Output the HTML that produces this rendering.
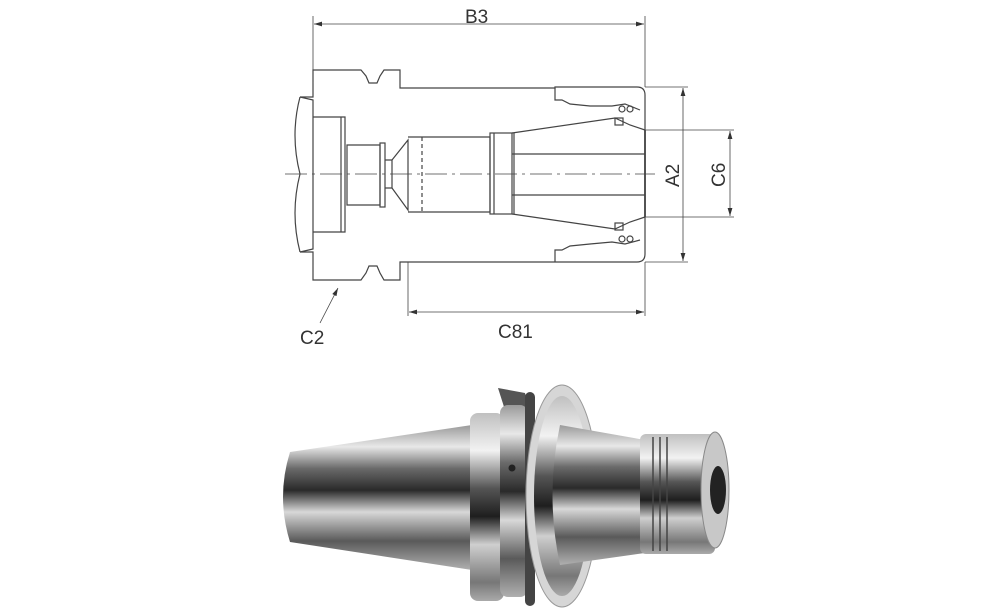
<!DOCTYPE html>
<html><head><meta charset="utf-8"><style>
html,body{margin:0;padding:0;background:#fff;width:1000px;height:611px;overflow:hidden}
svg{display:block}
text{font-family:"Liberation Sans",sans-serif;fill:#333}
</style></head><body>
<svg width="1000" height="611" viewBox="0 0 1000 611" xmlns="http://www.w3.org/2000/svg">
<defs>
<linearGradient id="m" x1="0" y1="0" x2="0" y2="1">
<stop offset="0" stop-color="#9a9a9a"/><stop offset=".15" stop-color="#e8e8e8"/><stop offset=".3" stop-color="#6a6a6a"/><stop offset=".45" stop-color="#2a2a2a"/><stop offset=".6" stop-color="#d8d8d8"/><stop offset=".8" stop-color="#5a5a5a"/><stop offset="1" stop-color="#b0b0b0"/>
</linearGradient>
<linearGradient id="m2" x1="0" y1="0" x2="0" y2="1">
<stop offset="0" stop-color="#c0c0c0"/><stop offset=".2" stop-color="#f2f2f2"/><stop offset=".4" stop-color="#555"/><stop offset=".55" stop-color="#1e1e1e"/><stop offset=".7" stop-color="#cfcfcf"/><stop offset=".9" stop-color="#777"/><stop offset="1" stop-color="#aaa"/>
</linearGradient>
<marker id="a" markerWidth="10" markerHeight="6" refX="10" refY="3" orient="auto-start-reverse"><path d="M0,0 L10,3 L0,6z" fill="#333"/></marker>
</defs>
<g fill="none" stroke="#444" stroke-width="1.2">
<line x1="313" y1="16" x2="313" y2="70" stroke-width="0.8"/>
<line x1="645" y1="16" x2="645" y2="87" stroke-width="0.8"/>
<line x1="314" y1="24" x2="644" y2="24" marker-start="url(#a)" marker-end="url(#a)" stroke-width="0.8"/>
<line x1="645" y1="87" x2="688" y2="87" stroke-width="0.8"/>
<line x1="645" y1="262" x2="688" y2="262" stroke-width="0.8"/>
<line x1="683" y1="88" x2="683" y2="261" marker-start="url(#a)" marker-end="url(#a)" stroke-width="0.8"/>
<line x1="645" y1="130" x2="734" y2="130" stroke-width="0.8"/>
<line x1="645" y1="217" x2="734" y2="217" stroke-width="0.8"/>
<line x1="730" y1="131" x2="730" y2="216" marker-start="url(#a)" marker-end="url(#a)" stroke-width="0.8"/>
<line x1="408" y1="262" x2="408" y2="316" stroke-width="0.8"/>
<line x1="645" y1="262" x2="645" y2="316" stroke-width="0.8"/>
<line x1="409" y1="312" x2="644" y2="312" marker-start="url(#a)" marker-end="url(#a)" stroke-width="0.8"/>
<line x1="320" y1="323" x2="338" y2="288" marker-end="url(#a)" stroke-width="0.8"/>
<line x1="285" y1="174" x2="655" y2="174" stroke-dasharray="22,5,3,5" stroke-width="0.8"/>
<path d="M300,97 L313,97 L313,70 L361,70 L366,76 L369,83 L377,83 L380,76 L384,70 L400,70 L400,88 L555,88 L555,87 L637,87 Q645,87 645,95 L645,254 Q645,262 637,262 L555,262 L400,262 L400,280 L384,280 L380,273 L377,266 L369,266 L366,273 L361,280 L313,280 L313,252 L300,252"/>
<path d="M300,97 Q290,135 300,174 Q290,213 300,252"/>
<path d="M300,97 L313,100 L313,249 L300,252"/>
<path d="M313,117 L345,117 L345,232 L313,232"/>
<line x1="341" y1="117" x2="341" y2="232"/>
<path d="M347,145 L380,145 L380,205 L347,205z"/>
<rect x="380" y="143" width="5" height="64"/>
<path d="M385,160 L392,160 L392,188 L385,188"/>
<path d="M392,160 L408,140 L408,210 L392,188"/>
<path d="M408,137 L490,137 L490,212 L408,212"/>
<line x1="422" y1="137" x2="422" y2="212" stroke-dasharray="4,3"/>
<rect x="490" y="133" width="22" height="81"/>
<line x1="494" y1="133" x2="494" y2="214"/>
<path d="M512,133 L615,118 L630,125 L645,130 M512,214 L615,229 L630,222 L645,217"/>
<line x1="512" y1="154" x2="645" y2="154"/>
<line x1="512" y1="195" x2="645" y2="195"/>
<line x1="514" y1="133" x2="514" y2="214"/>
<line x1="645" y1="130" x2="645" y2="217" stroke-width="1.8"/>
<path d="M555,88 L555,100 L562,100 L570,104 L590,106 L612,106 L625,104 L640,110 M555,262 L555,250 L562,250 L570,246 L590,244 L612,242 L625,244 L640,240"/>
<circle cx="622" cy="109" r="3"/><circle cx="630" cy="109" r="3"/><rect x="615" y="118" width="8" height="7"/>
<circle cx="622" cy="239" r="3"/><circle cx="630" cy="239" r="3"/><rect x="615" y="223" width="8" height="7"/>
</g>
<text x="465" y="23" font-size="19">B3</text>
<text x="498" y="338" font-size="19">C81</text>
<text x="300" y="344" font-size="19">C2</text>
<text font-size="19" transform="translate(679,187) rotate(-90)">A2</text>
<text font-size="19" transform="translate(725,187) rotate(-90)">C6</text>
<!-- photo -->
<path d="M290,452 L472,425 L472,570 L290,542 Q276,497 290,452z" fill="url(#m)"/>
<rect x="470" y="413" width="34" height="188" rx="8" fill="url(#m2)"/>
<path d="M498,388 L525,393 L530,412 L505,410z" fill="#555"/>
<rect x="500" y="405" width="28" height="192" rx="8" fill="url(#m)"/>
<circle cx="512" cy="468" r="3.5" fill="#222"/>
<rect x="525" y="392" width="10" height="214" rx="5" fill="#444"/>
<ellipse cx="562" cy="496" rx="36" ry="111" fill="#d6d6d6" stroke="#999"/>
<ellipse cx="562" cy="496" rx="28" ry="100" fill="url(#m2)"/>
<path d="M560,425 L645,440 L645,553 L560,565 Q545,495 560,425z" fill="url(#m)"/>
<rect x="640" y="434" width="75" height="120" rx="6" fill="url(#m2)"/>
<g stroke="#444" stroke-width="1.5"><line x1="653" y1="437" x2="653" y2="551"/><line x1="660" y1="437" x2="660" y2="551"/><line x1="667" y1="437" x2="667" y2="551"/></g>
<ellipse cx="715" cy="490" rx="14" ry="58" fill="#c8c8c8" stroke="#888"/>
<ellipse cx="718" cy="490" rx="8" ry="24" fill="#222"/>
</svg>
</body></html>
